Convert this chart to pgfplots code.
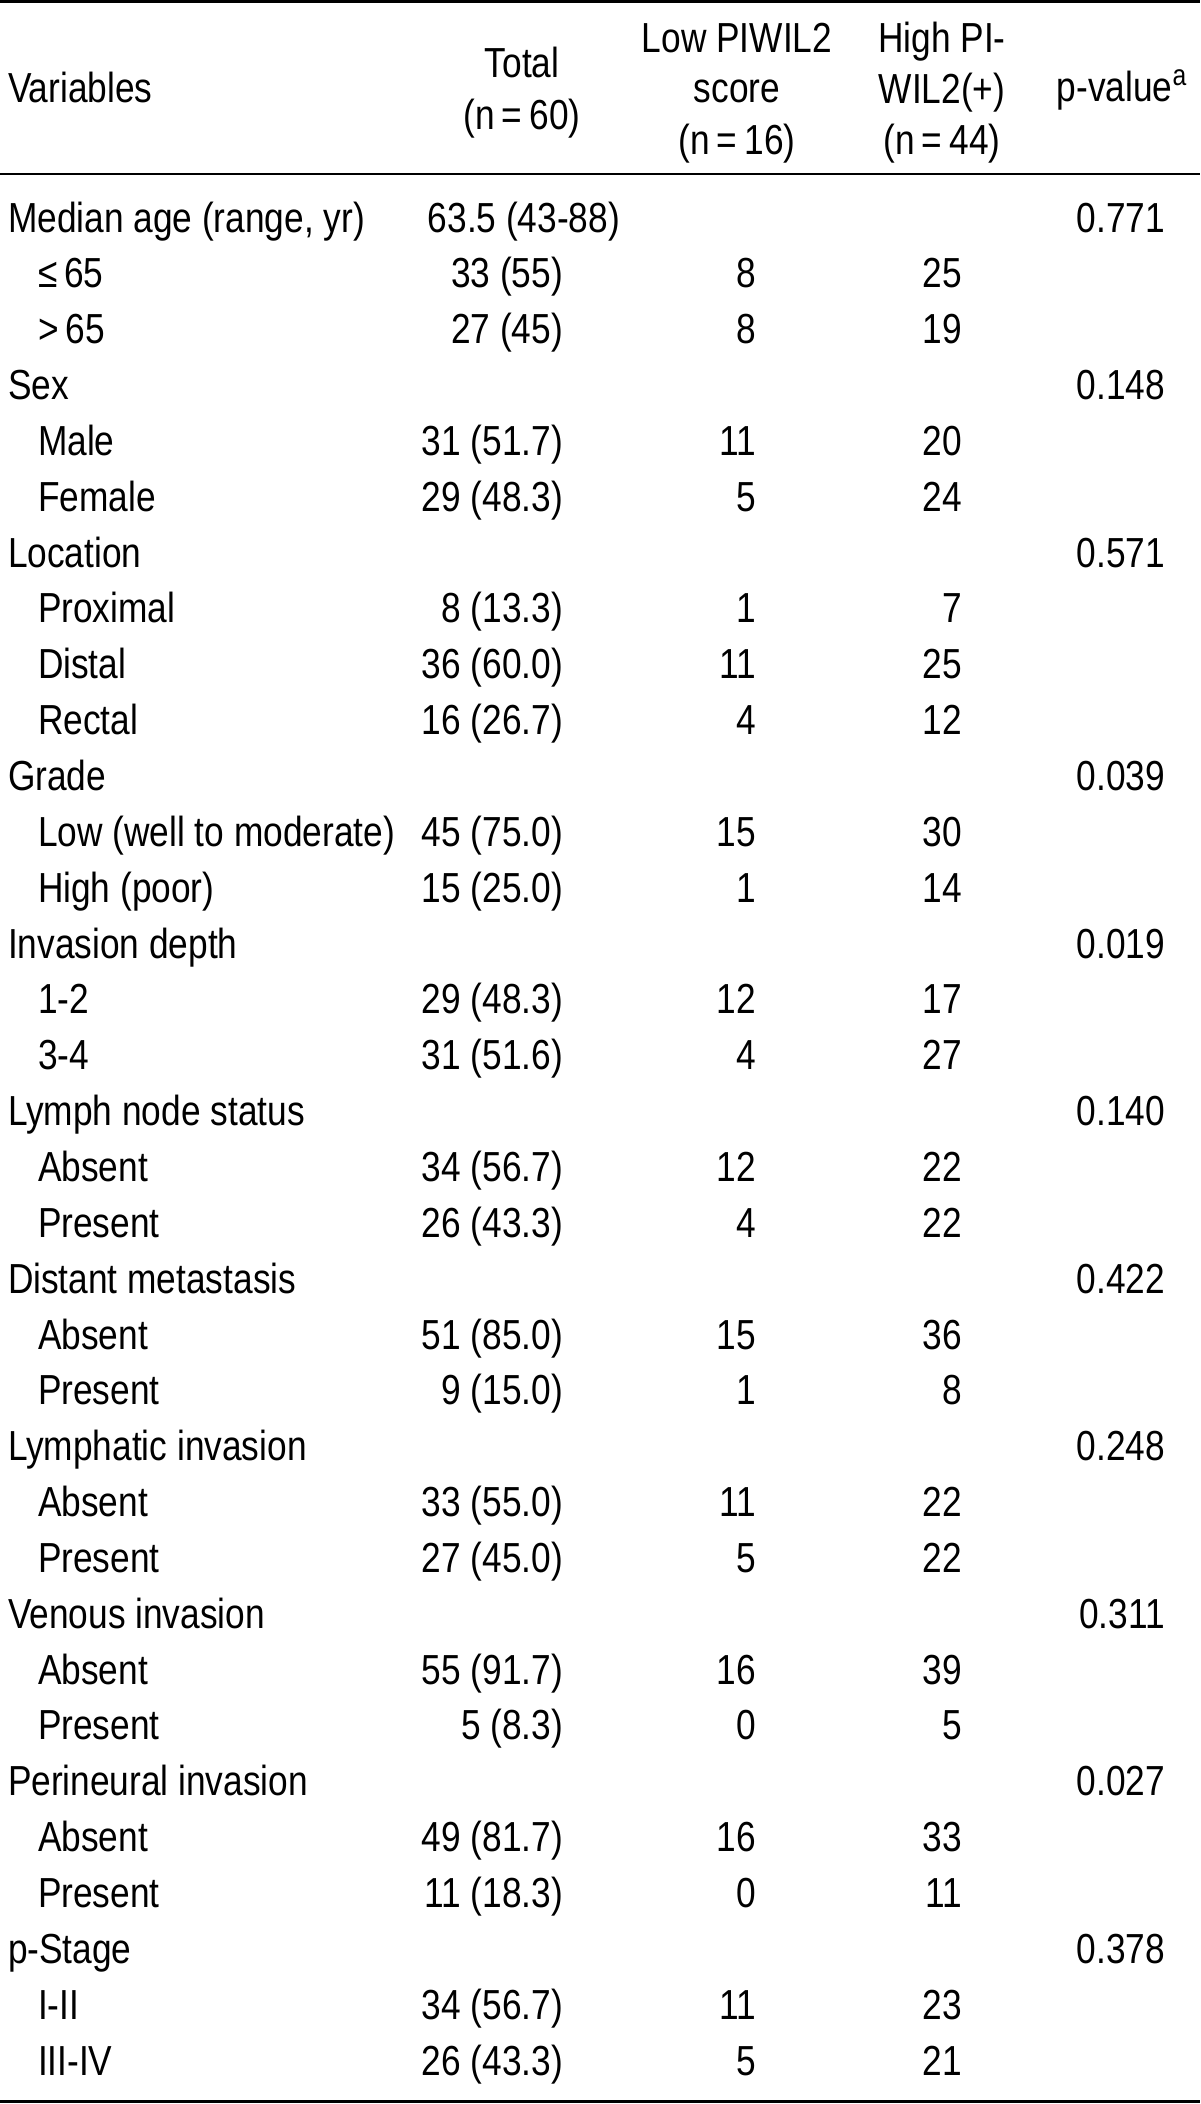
\documentclass[border=0pt]{standalone}
\usepackage{pgfplots}
\pgfplotsset{compat=1.18}
\usepackage{fontspec}
\setmainfont[FakeStretch=0.84]{Liberation Sans}
\newcommand{\tf}{\fontsize{21pt}{25pt}\selectfont}
\begin{document}
\begin{tikzpicture}
\begin{axis}[
  name=tab,
  width=600pt, height=1052pt, scale only axis,
  xmin=0, xmax=1200, ymin=0, ymax=2104, y dir=reverse,
  hide axis, clip=false,
  every node near coord/.append style={inner sep=0pt, outer sep=0pt, font=\tf, text=black},
]
% rules
\addplot[black, line width=1.5pt] coordinates {(0,1.5) (1200,1.5)};
\addplot[black, line width=1.1pt] coordinates {(0,174) (1200,174)};
\addplot[black, line width=1.5pt] coordinates {(0,2101.5) (1200,2101.5)};
% header
\node[anchor=base west, inner sep=0pt, outer sep=0pt, font=\tf] at (axis cs:8,102) {Variables};
\node[anchor=base, inner sep=0pt, outer sep=0pt, font=\tf] at (axis cs:522,77) {Total};
\node[anchor=base, inner sep=0pt, outer sep=0pt, font=\tf] at (axis cs:522,129) {(n\,=\,60)};
\node[anchor=base, inner sep=0pt, outer sep=0pt, font=\tf] at (axis cs:737,52) {Low PIWIL2};
\node[anchor=base, inner sep=0pt, outer sep=0pt, font=\tf] at (axis cs:737,102) {score};
\node[anchor=base, inner sep=0pt, outer sep=0pt, font=\tf] at (axis cs:737,154) {(n\,=\,16)};
\node[anchor=base, inner sep=0pt, outer sep=0pt, font=\tf] at (axis cs:942,52) {High PI-};
\node[anchor=base, inner sep=0pt, outer sep=0pt, font=\tf] at (axis cs:942,103) {WIL2(+)};
\node[anchor=base, inner sep=0pt, outer sep=0pt, font=\tf] at (axis cs:942,154) {(n\,=\,44)};
\node[anchor=base, inner sep=0pt, outer sep=0pt, font=\tf] at (axis cs:1122,101) {p-value\textsuperscript{a}};
% variables column
\addplot[draw=none, mark=none, nodes near coords, point meta=explicit symbolic,
  nodes near coords style={anchor=base west}]
  table[x=x, y expr=232+55.85*\thisrow{r}, meta=t, col sep=semicolon, row sep=\\] {
x;r;t\\
8;0;Median age (range, yr)\\
38;1;≤\,65\\
38;2;>\,65\\
8;3;Sex\\
38;4;Male\\
38;5;Female\\
8;6;Location\\
38;7;Proximal\\
38;8;Distal\\
38;9;Rectal\\
8;10;Grade\\
38;11;Low (well to moderate)\\
38;12;High (poor)\\
8;13;Invasion depth\\
38;14;1-2\\
38;15;3-4\\
8;16;Lymph node status\\
38;17;Absent\\
38;18;Present\\
8;19;Distant metastasis\\
38;20;Absent\\
38;21;Present\\
8;22;Lymphatic invasion\\
38;23;Absent\\
38;24;Present\\
8;25;Venous invasion\\
38;26;Absent\\
38;27;Present\\
8;28;Perineural invasion\\
38;29;Absent\\
38;30;Present\\
8;31;p-Stage\\
38;32;I-II\\
38;33;III-IV\\
};
% total column
\addplot[draw=none, mark=none, nodes near coords, point meta=explicit symbolic,
  nodes near coords style={anchor=base east}]
  table[x=x, y expr=232+55.85*\thisrow{r}, meta=t, col sep=semicolon, row sep=\\] {
x;r;t\\
620;0;63.5 (43-88)\\
563;1;33 (55)\\
563;2;27 (45)\\
563;4;31 (51.7)\\
563;5;29 (48.3)\\
563;7;8 (13.3)\\
563;8;36 (60.0)\\
563;9;16 (26.7)\\
563;11;45 (75.0)\\
563;12;15 (25.0)\\
563;14;29 (48.3)\\
563;15;31 (51.6)\\
563;17;34 (56.7)\\
563;18;26 (43.3)\\
563;20;51 (85.0)\\
563;21;9 (15.0)\\
563;23;33 (55.0)\\
563;24;27 (45.0)\\
563;26;55 (91.7)\\
563;27;5 (8.3)\\
563;29;49 (81.7)\\
563;30;11 (18.3)\\
563;32;34 (56.7)\\
563;33;26 (43.3)\\
};
% low PIWIL2 column
\addplot[draw=none, mark=none, nodes near coords, point meta=explicit symbolic,
  nodes near coords style={anchor=base east}]
  table[x expr=756, y expr=232+55.85*\thisrow{r}, meta=t, col sep=semicolon, row sep=\\] {
r;t\\
1;8\\
2;8\\
4;11\\
5;5\\
7;1\\
8;11\\
9;4\\
11;15\\
12;1\\
14;12\\
15;4\\
17;12\\
18;4\\
20;15\\
21;1\\
23;11\\
24;5\\
26;16\\
27;0\\
29;16\\
30;0\\
32;11\\
33;5\\
};
% high PIWIL2 column
\addplot[draw=none, mark=none, nodes near coords, point meta=explicit symbolic,
  nodes near coords style={anchor=base east}]
  table[x expr=962, y expr=232+55.85*\thisrow{r}, meta=t, col sep=semicolon, row sep=\\] {
r;t\\
1;25\\
2;19\\
4;20\\
5;24\\
7;7\\
8;25\\
9;12\\
11;30\\
12;14\\
14;17\\
15;27\\
17;22\\
18;22\\
20;36\\
21;8\\
23;22\\
24;22\\
26;39\\
27;5\\
29;33\\
30;11\\
32;23\\
33;21\\
};
% p-value column
\addplot[draw=none, mark=none, nodes near coords, point meta=explicit symbolic,
  nodes near coords style={anchor=base east}]
  table[x expr=1165, y expr=232+55.85*\thisrow{r}, meta=t, col sep=semicolon, row sep=\\] {
r;t\\
0;0.771\\
3;0.148\\
6;0.571\\
10;0.039\\
13;0.019\\
16;0.140\\
19;0.422\\
22;0.248\\
25;0.311\\
28;0.027\\
31;0.378\\
};
\end{axis}
\pgfresetboundingbox
\path[use as bounding box] (tab.south west) rectangle (tab.north east);
\end{tikzpicture}
\end{document}
